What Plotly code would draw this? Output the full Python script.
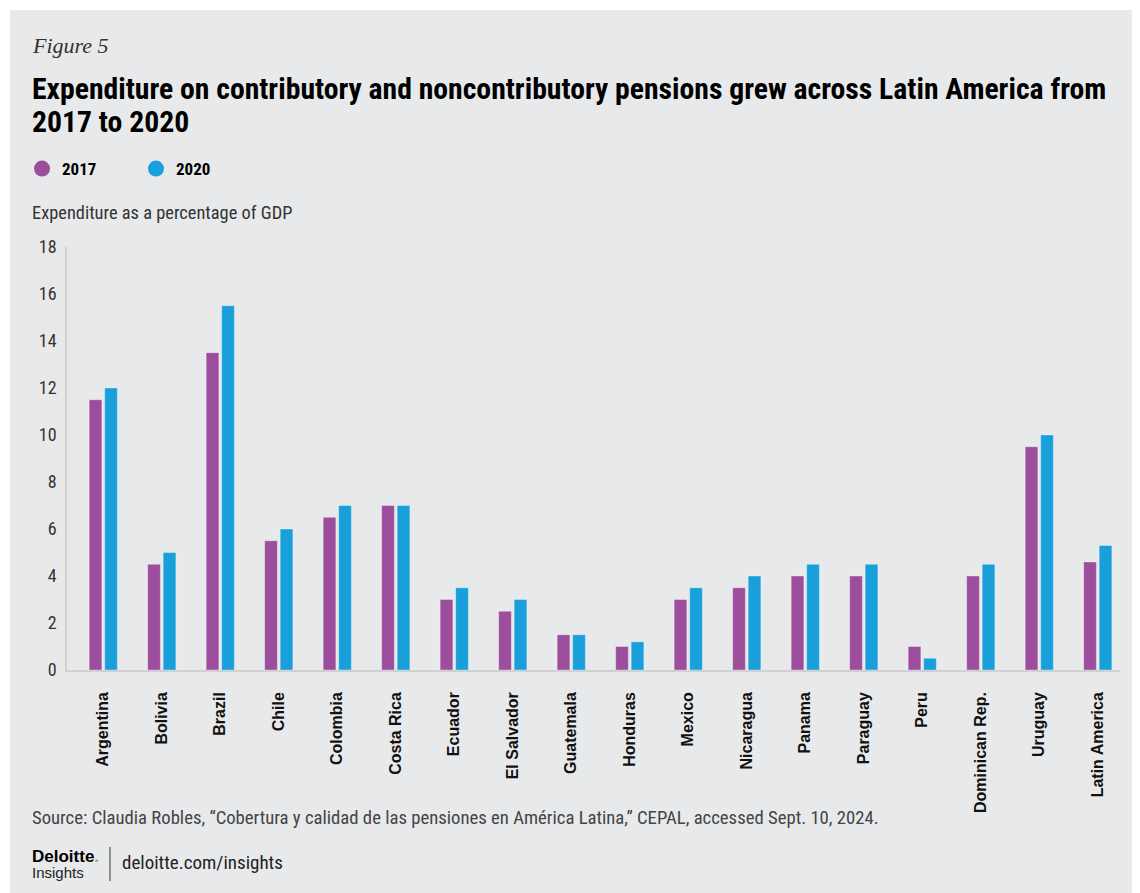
import plotly.graph_objects as go

# ---------------- data ----------------
countries = ["Argentina", "Bolivia", "Brazil", "Chile", "Colombia", "Costa Rica",
             "Ecuador", "El Salvador", "Guatemala", "Honduras", "Mexico", "Nicaragua",
             "Panama", "Paraguay", "Peru", "Dominican Rep.", "Uruguay", "Latin America"]
values_2017 = [11.5, 4.5, 13.5, 5.5, 6.5, 7.0, 3.0, 2.5, 1.5, 1.0, 3.0, 3.5,
               4.0, 4.0, 1.0, 4.0, 9.5, 4.6]
values_2020 = [12.0, 5.0, 15.5, 6.0, 7.0, 7.0, 3.5, 3.0, 1.5, 1.2, 3.5, 4.0,
               4.5, 4.5, 0.5, 4.5, 10.0, 5.3]
y_ticks = [0, 2, 4, 6, 8, 10, 12, 14, 16, 18]
series_names = ["2017", "2020"]

# ---------------- style ----------------
PURPLE = "#9C4E9C"
BLUE = "#19A0DB"
BG = "#E8E9EB"
AXIS = "#CFD0D2"
NARROW = "Liberation Sans Narrow, Roboto Condensed, Arial Narrow, Roboto, sans-serif"
SANS = "Liberation Sans, Arial, sans-serif"
SERIF = "Liberation Serif, Times New Roman, serif"

OFF = 8                      # page body margin of the browser
W, H = 1140 - OFF, 893 - OFF
PLOT_LEFT, PLOT_RIGHT, PLOT_TOP, PLOT_BOTTOM = 67, 1120, 247, 670   # page pixels
L = PLOT_LEFT - OFF
T = PLOT_TOP - OFF
R = W - (PLOT_RIGHT - OFF)
B = H - (PLOT_BOTTOM - OFF)
PW = W - L - R
PH = H - T - B


def xp(px):
    """page pixel x -> paper coordinate"""
    return (px - OFF - L) / PW


def yp(py):
    """page pixel y -> paper coordinate"""
    return (H - B - (py - OFF)) / PH


fig = go.Figure()
fig.add_trace(go.Bar(x=countries, y=values_2017, name=series_names[0],
                     marker=dict(color=PURPLE, line=dict(color="rgba(255,255,255,0.35)", width=1)),
                     showlegend=False, hoverinfo="x+y"))
fig.add_trace(go.Bar(x=countries, y=values_2020, name=series_names[1],
                     marker=dict(color=BLUE, line=dict(color="rgba(255,255,255,0.35)", width=1)),
                     showlegend=False, hoverinfo="x+y"))
# legend entries (circle markers)
for nm, col in zip(series_names, [PURPLE, BLUE]):
    fig.add_trace(go.Scatter(x=[None], y=[None], mode="markers", name=nm,
                             marker=dict(symbol="circle", size=16, color=col),
                             showlegend=True, hoverinfo="skip"))


def ann(text, x, y, font, xanchor="left", yanchor="middle", align="left"):
    return dict(text=text, x=xp(x), y=yp(y), xref="paper", yref="paper",
                xanchor=xanchor, yanchor=yanchor, align=align, font=font, showarrow=False)


TITLE_FONT = dict(family=NARROW, size=29.7, color="#000000", weight="bold")
annotations = [
    ann("Figure 5", 30, 45, dict(family=SERIF, size=22, color="#333333", style="italic")),
    ann("Expenditure on contributory and noncontributory pensions grew across Latin America from",
        30, 88, TITLE_FONT),
    ann("2017 to 2020", 30, 121, TITLE_FONT),
    ann("Expenditure as a percentage of GDP", 30, 212, dict(family=NARROW, size=18.4, color="#333333")),
    ann("Source: Claudia Robles, “Cobertura y calidad de las pensiones en América Latina,” CEPAL, accessed Sept. 10, 2024.",
        30, 818, dict(family=NARROW, size=18.7, color="#444444")),
    ann("Deloitte<span style='color:#86BC25'>.</span>", 30, 856,
        dict(family=SANS, size=17, color="#000000", weight="bold")),
    ann("Insights", 30, 872, dict(family=SANS, size=15, color="#222222")),
    ann("deloitte.com/insights", 120, 862, dict(family=NARROW, size=19, color="#222222")),
]

shapes = [
    # extra white border strips (top and left) beyond the page margin
    dict(type="rect", xref="paper", yref="paper", x0=xp(0), x1=xp(1200), y0=yp(0), y1=yp(10),
         fillcolor="white", line=dict(width=0), layer="below"),
    dict(type="rect", xref="paper", yref="paper", x0=xp(0), x1=xp(10), y0=yp(0), y1=yp(900),
         fillcolor="white", line=dict(width=0), layer="below"),
    # logo divider
    dict(type="line", xref="paper", yref="paper", x0=xp(110), x1=xp(110), y0=yp(847), y1=yp(881),
         line=dict(color="#333333", width=1)),
]

fig.update_layout(
    width=W, height=H,
    margin=dict(l=L, r=R, t=T, b=B, autoexpand=False),
    paper_bgcolor=BG, plot_bgcolor=BG,
    barmode="group", bargap=0.47, bargroupgap=0.18,
    showlegend=True,
    legend=dict(orientation="h", x=xp(22), y=yp(169), xanchor="left", yanchor="middle",
                entrywidth=69, entrywidthmode="pixels", bgcolor="rgba(0,0,0,0)",
                font=dict(family=NARROW, size=17, color="#000000", weight="bold"),
                itemclick=False, itemdoubleclick=False),
    annotations=annotations,
    shapes=shapes,
    xaxis=dict(type="category", range=[-0.62, 17.38], showline=True, linecolor=AXIS, linewidth=1.5,
               tickangle=-90, ticks="", showgrid=False, zeroline=False, ticklabelstandoff=14,
               tickfont=dict(family=SANS, size=16, color="#111111", weight="bold"), fixedrange=True),
    yaxis=dict(range=[0, 18], tickvals=y_ticks, showline=True, linecolor=AXIS, linewidth=1.5,
               ticks="", showgrid=False, zeroline=False, ticklabelstandoff=5,
               tickfont=dict(family=NARROW, size=18, color="#333333"), fixedrange=True),
)

fig.write_html("out.html")
